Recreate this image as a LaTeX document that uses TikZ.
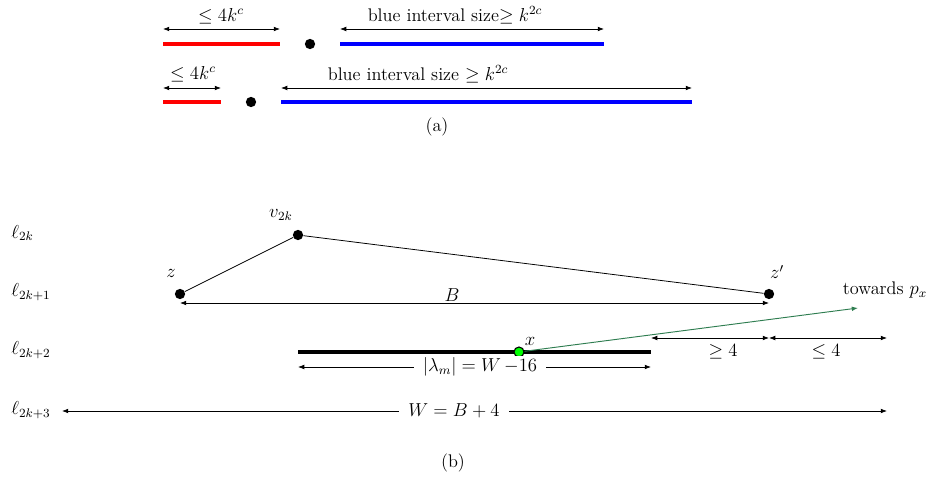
\documentclass[tikz,border=0pt]{standalone}
\usetikzlibrary{arrows.meta}
\definecolor{arrowgreen}{RGB}{46,125,80}
\begin{document}
\begin{tikzpicture}[x=0.0225cm,y=-0.0225cm,
  every node/.style={font=\fontsize{11.7}{14}\selectfont},
  >={Latex[length=4pt,width=3pt]},
  dim/.style={<->,line width=0.45pt},
  seg/.style={line width=2.6pt},
  dot/.style={circle,fill=black,inner sep=0pt,minimum size=6.6pt},
  gdot/.style={circle,fill=green,draw=black,line width=0.7pt,inner sep=0pt,minimum size=6.4pt},
  lvl/.style={anchor=west,inner sep=0pt},
  gaplabel/.style={fill=white,inner xsep=6pt,inner ysep=1pt}]
\useasboundingbox (0,0) rectangle (936,477);
% ---------------- (a) ----------------
\coordinate (r1a) at (163,44); \coordinate (r1b) at (280,44);
\coordinate (b1a) at (340,44); \coordinate (b1b) at (604,44);
\coordinate (d1a) at (163,29); \coordinate (d1b) at (280,29);
\coordinate (e1a) at (340,29); \coordinate (e1b) at (604,29);
\draw[red,seg] (r1a) -- (r1b);
\draw[blue,seg] (b1a) -- (b1b);
\node[dot] (p1) at (310,44) {};
\draw[dim] (d1a) -- (d1b);
\draw[dim] (e1a) -- (e1b);
\node (l1) at (221,16) {$\leq 4k^c$};
\node (l2) at (455,15) {blue interval size$\geq k^{2c}$};

\coordinate (r2a) at (163,102); \coordinate (r2b) at (221,102);
\coordinate (b2a) at (281,102); \coordinate (b2b) at (692,102);
\coordinate (d2a) at (163,88); \coordinate (d2b) at (221,88);
\coordinate (e2a) at (281,88); \coordinate (e2b) at (692,88);
\draw[red,seg] (r2a) -- (r2b);
\draw[blue,seg] (b2a) -- (b2b);
\node[dot] (p2) at (251,102) {};
\draw[dim] (d2a) -- (d2b);
\draw[dim] (e2a) -- (e2b);
\node (l3) at (193,74) {$\leq 4k^c$};
\node (l4) at (418,74) {blue interval size $\geq k^{2c}$};
\node (capa) at (437,127) {(a)};

% ---------------- (b) ----------------
\node[lvl] (L0) at (11,233) {$\ell_{2k}$};
\node[lvl] (L1) at (11,292) {$\ell_{2k+1}$};
\node[lvl] (L2) at (11,350) {$\ell_{2k+2}$};
\node[lvl] (L3) at (11,410) {$\ell_{2k+3}$};

\node[dot] (z) at (180,294) {};
\node[dot] (v) at (298,235) {};
\node[dot] (zp) at (769,294) {};
\node (zl) at (171,273) {$z$};
\node (vl) at (281,215) {$v_{2k}$};
\node (zpl) at (777,272) {$z'$};
\draw[line width=0.5pt] (z) -- (v) -- (zp);

\coordinate (Bl) at (180,303); \coordinate (Br) at (769,303);
\draw[dim] (Bl) -- (Br);
\node (Blab) at (452,295) {$B$};

\node (tow) at (885,290) {towards $p_x$};

\coordinate (lama) at (298,352); \coordinate (lamb) at (651,352);
\draw[line width=2.6pt] (lama) -- (lamb);
\coordinate (tgt) at (858,308);
\node[gdot] (x) at (519,352) {};
\node (xl) at (530,341) {$x$};
\draw[->,arrowgreen,line width=0.6pt] (x) -- (tgt);

\coordinate (la) at (298,367); \coordinate (lb) at (651,367);
\draw[dim] (la) -- (lb);
\node[gaplabel] (laml) at (480,367) {$|\lambda_m| = W\,{-}16$};

\coordinate (g1) at (651,338); \coordinate (g2) at (769,338); \coordinate (g3) at (887,338);
\draw[dim] (g1) -- (g2);
\draw[dim] (g2) -- (g3);
\node (ge) at (723,352) {$\geq 4$};
\node (le) at (826,352) {$\leq 4$};

\coordinate (wa) at (62,411); \coordinate (wb) at (887,411);
\draw[dim] (wa) -- (wb);
\node[gaplabel] (wl) at (454,411) {$W = B+4$};

\node (capb) at (453,463) {(b)};
\end{tikzpicture}
\end{document}
